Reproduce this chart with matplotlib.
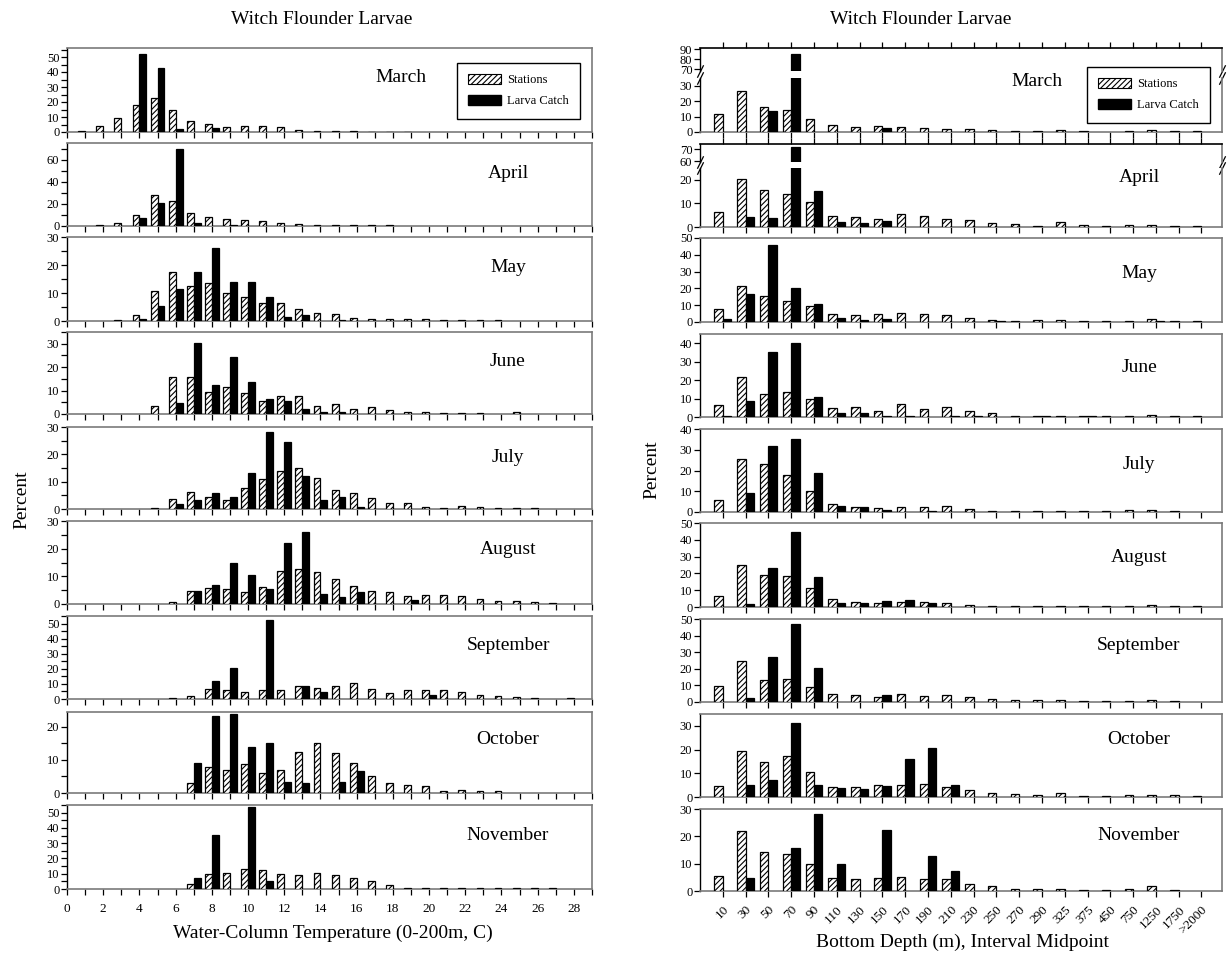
import numpy as np
import matplotlib
matplotlib.use('Agg')
import matplotlib.pyplot as plt
from matplotlib.patches import Patch
from matplotlib.ticker import MultipleLocator

plt.rcParams['font.family'] = ['Liberation Serif', 'DejaVu Serif']
plt.rcParams['hatch.linewidth'] = 0.8

W, H = 1228, 956

months = ['March', 'April', 'May', 'June', 'July', 'August',
          'September', 'October', 'November']

# ---- left column: water-column temperature bins 1..28 C (percent) ----
temp_bins = list(range(1, 29))

temp_st_mar = [0.8, 4, 9.5, 18, 23, 15, 7.5, 5.5, 3.5, 4, 4, 3.5, 1.2, 0.5, 0.5, 0.5, 0.3, 0.3, 0.3,
               0, 0, 0, 0, 0, 0, 0, 0, 0]
temp_lv_mar = [0, 0, 0, 52, 43, 2, 0, 2.5] + [0] * 20
temp_st_apr = [0, 0.5, 2.5, 10, 28, 22.5, 12, 8, 6, 5, 4.5, 3, 1.5, 1, 0.8, 0.8, 0.8, 0.8] + [0] * 10
temp_lv_apr = [0, 0, 0, 7, 21, 70, 3, 0, 1] + [0] * 19
temp_st_may = [0, 0, 0.3, 2, 10.8, 17.5, 12.5, 13.7, 10, 8.4, 6.6, 6.6, 4.4, 2.7, 2.6, 1.1, 0.8, 0.6,
               0.6, 0.6, 0.5, 0.4, 0.3, 0.3, 0, 0, 0, 0]
temp_lv_may = [0, 0, 0, 0.7, 5.3, 11.5, 17.5, 26, 13.8, 13.9, 8.7, 1.5, 2.2, 0, 0.5] + [0] * 13
temp_st_jun = [0, 0, 0, 0, 3.5, 15.8, 16, 9.3, 11.5, 8.8, 5.5, 7.7, 7.7, 3.5, 4.3, 2.3, 2.8, 1.7,
               0.9, 0.8, 0.5, 0.5, 0.5, 0, 0.7, 0, 0, 0]
temp_lv_jun = [0, 0, 0, 0, 0, 4.8, 30.5, 12.4, 24.5, 13.5, 6.4, 5.7, 2.3, 0.8, 1] + [0] * 13
temp_st_jul = [0, 0, 0, 0, 0.5, 3.6, 6.2, 4.5, 3.3, 7.8, 11, 14, 15, 11.4, 7, 5.8, 4, 2.2, 2.3,
               0.8, 0.5, 1.2, 0.7, 0.5, 0.5, 0.4, 0, 0]
temp_lv_jul = [0, 0, 0, 0, 0, 2, 3.2, 5.8, 4.3, 13, 28, 24.5, 12, 3.4, 4.5, 0.8] + [0] * 12
temp_st_aug = [0, 0, 0, 0, 0, 0.8, 4.7, 5.8, 5.6, 4.4, 6.2, 12, 12.7, 11.5, 9, 6.6, 4.7, 4.4, 2.8,
               3.3, 3.3, 3, 1.7, 1.2, 1.2, 0.8, 0.5, 0]
temp_lv_aug = [0, 0, 0, 0, 0, 0, 4.7, 6.7, 15, 10.4, 5.5, 22.2, 26.2, 3.7, 2.4, 4.2, 0, 0, 1.5] + [0] * 9
temp_st_sep = [0, 0, 0, 0, 0, 0.7, 2, 6.5, 6, 4.7, 5.7, 5.7, 8.5, 7.5, 8.7, 10.5, 6.5, 4, 6, 5.8,
               6, 4.5, 2.5, 2, 1.5, 0.5, 0, 0.5]
temp_lv_sep = [0, 0, 0, 0, 0, 0, 0, 12, 20.5, 0, 52.5, 0, 8.8, 4.8, 0, 0, 0, 0, 0, 2.4] + [0] * 8
temp_st_oct = [0, 0, 0, 0, 0, 0, 3, 8, 7, 8.9, 6, 6.9, 12.3, 15, 12, 9.2, 5.2, 3, 2.3, 2, 0.7, 0.8,
               0.7, 0.7, 0, 0, 0, 0]
temp_lv_oct = [0, 0, 0, 0, 0, 0, 9, 23.3, 24, 13.9, 15.2, 3.2, 3, 0, 3.3, 6.7] + [0] * 12
temp_st_nov = [0, 0, 0, 0, 0, 0, 3, 10, 10.5, 13, 12.5, 10, 9.2, 10.2, 9.2, 7, 5.2, 2.5, 0.8, 0.5,
               0.5, 0.5, 0.5, 0.5, 0.5, 0.5, 0.5, 0]
temp_lv_nov = [0, 0, 0, 0, 0, 0, 7.5, 35.5, 0, 53.5, 5] + [0] * 17

temp_ylim = [56, 75, 30, 35, 30, 30, 55, 24.5, 55]
temp_major = [10, 20, 10, 10, 10, 10, 10, 10, 10]

# ---- right column: bottom depth classes (percent) ----
depth_labels = ['10', '30', '50', '70', '90', '110', '130', '150', '170', '190', '210', '230',
                '250', '270', '290', '325', '375', '450', '750', '1250', '1750', '>2000']

depth_st_mar = [12, 26.5, 16.2, 14.3, 8.5, 4.7, 3, 4, 3, 2.7, 2, 1.7, 1.5, 0.8, 0.8, 1.2, 0.8, 0, 0.8, 1.2, 0.6, 0.5]
depth_lv_mar = [0, 0, 13.5, 85, 0, 0, 0, 2.8] + [0] * 14
depth_st_apr = [6.3, 20.5, 15.5, 14, 10.8, 4.8, 4.2, 3.3, 5.5, 4.5, 3.4, 2.8, 1.7, 1.1, 0.5, 2, 0.9, 0.5, 0.8, 0.8, 0.5, 0.5]
depth_lv_apr = [0, 4.3, 3.8, 72, 15.3, 2, 1.5, 2.5] + [0] * 14
depth_st_may = [7.7, 21.5, 15.5, 12.5, 9.5, 5, 4.3, 5, 5.1, 4.8, 4.3, 2.5, 1.3, 0.6, 0.9, 0.9, 0.8, 0.5, 0.8, 1.5, 0.6, 0.5]
depth_lv_may = [1.6, 16.5, 46, 20.5, 10.5, 2.3, 1.3, 1.8, 0, 0, 0, 0, 0.7, 0, 0, 0, 0, 0, 0, 0.8, 0, 0]
depth_st_jun = [6.5, 21.8, 12.3, 13.3, 10, 4.8, 5.2, 3.2, 7, 4.3, 5.3, 3.2, 2, 0.5, 0.5, 0.4, 0.4, 0.5, 0.5, 1.3, 0.4, 0.4]
depth_lv_jun = [0.8, 8.5, 35.5, 40, 10.6, 2, 2.4, 0.6, 0.5, 0, 0.6, 0.6, 0, 0, 0.5, 0, 0.5, 0, 0, 0, 0, 0]
depth_st_jul = [5.8, 25.5, 23, 17.7, 10.3, 3.8, 2.5, 2, 2.3, 2.3, 2.7, 1.3, 0.5, 0.6, 0.5, 0.5, 0.6, 0.6, 0.9, 0.9, 0.4, 0]
depth_lv_jul = [0, 9, 32, 35, 18.8, 2.8, 2.3, 1, 0, 0.6] + [0] * 12
depth_st_aug = [6.4, 25, 19, 18.5, 11.3, 4.8, 3, 2.3, 3, 3, 2.5, 1.2, 0.5, 0.5, 0.5, 0.7, 0.5, 0.5, 0.5, 1, 0.5, 0.4]
depth_lv_aug = [0, 1.8, 23.5, 44.5, 18, 2.3, 2.5, 3.8, 3.9, 2.3] + [0] * 12
depth_st_sep = [9.5, 25, 13.3, 14, 9, 4.7, 4.3, 3, 4.8, 3.6, 4, 3, 1.8, 1.3, 1.2, 1.2, 0.5, 0.6, 0.6, 1, 0.5, 0]
depth_lv_sep = [0, 2.5, 27, 47, 20.5, 0, 0, 4.5] + [0] * 14
depth_st_oct = [4.5, 19.5, 14.6, 17.2, 10.4, 4.4, 4.2, 5, 5, 5.3, 4.2, 2.8, 1.8, 1.1, 0.9, 1.5, 0.4, 0.4, 0.7, 0.8, 0.7, 0.4]
depth_lv_oct = [0, 5.2, 7.2, 31, 5, 4, 3.4, 4.6, 16.2, 20.8, 5.2] + [0] * 11
depth_st_nov = [5.5, 22, 14.3, 13.5, 9.7, 4.8, 4.3, 4.8, 5.2, 4.5, 4.5, 2.7, 2, 0.6, 0.6, 0.9, 0.5, 0.5, 0.9, 1.7, 0.2, 0]
depth_lv_nov = [0, 4.8, 0, 15.8, 28, 9.8, 0, 22.5, 0, 12.8, 7.4] + [0] * 11

depth_ylim = [None, None, 50, 45, 40, 50, 50, 35, 30]
# broken axes for March / April: (lower range, upper range, upper ticks)
depth_break = {0: ((0, 35.2), (68, 91.4), [70, 80, 90]),
               1: ((0, 25), (59.2, 74.5), [60, 70])}

temp_st = [temp_st_mar, temp_st_apr, temp_st_may, temp_st_jun, temp_st_jul,
           temp_st_aug, temp_st_sep, temp_st_oct, temp_st_nov]
temp_lv = [temp_lv_mar, temp_lv_apr, temp_lv_may, temp_lv_jun, temp_lv_jul,
           temp_lv_aug, temp_lv_sep, temp_lv_oct, temp_lv_nov]
depth_st = [depth_st_mar, depth_st_apr, depth_st_may, depth_st_jun, depth_st_jul,
            depth_st_aug, depth_st_sep, depth_st_oct, depth_st_nov]
depth_lv = [depth_lv_mar, depth_lv_apr, depth_lv_may, depth_lv_jun, depth_lv_jul,
            depth_lv_aug, depth_lv_sep, depth_lv_oct, depth_lv_nov]

# layout (pixels)
left_x = (67, 592)
right_x = (700, 1222)
left_tops = [48, 143, 237, 332, 427, 521, 616, 712, 805]
left_bots = [132, 226, 321, 414, 509, 604, 699, 793, 889]
right_tops = [48, 144, 238, 334, 429, 523, 619, 714, 809]
right_bots = [132, 227, 322, 417, 512, 607, 702, 797, 891]
right_split = {0: (71, 78), 1: (162, 168)}

left_month_xy = [(401, 78), (508, 173), (508, 268), (508, 362), (508, 458),
                 (508, 550), (508, 646), (508, 740), (508, 835)]
right_month_xy = [(1037, 82), (1139, 177), (1139, 273), (1139, 368), (1139, 465),
                  (1139, 558), (1139, 645), (1139, 740), (1139, 835)]

HATCH = '//////'
GRAY = '#7a7a7a'


def rect(x0, x1, top, bot):
    return [x0 / W, 1 - bot / H, (x1 - x0) / W, (bot - top) / H]


def draw_bars(ax, x, st, lv, width):
    x = np.asarray(x, dtype=float)
    st = np.asarray(st, dtype=float)
    lv = np.asarray(lv, dtype=float)
    m = st > 0
    ax.bar(x[m], st[m], width=-width, align='edge', facecolor='white',
           edgecolor='black', hatch=HATCH, linewidth=0.9, zorder=3)
    m = lv > 0
    ax.bar(x[m], lv[m], width=width, align='edge', facecolor='black',
           edgecolor='black', linewidth=0.9, zorder=3)


def style(ax):
    for side in ['top', 'right', 'bottom']:
        ax.spines[side].set_color(GRAY)
        ax.spines[side].set_linewidth(1.2)
    ax.spines['left'].set_color('black')
    ax.spines['left'].set_linewidth(1.0)
    ax.tick_params(which='both', direction='out', length=4, width=0.9,
                   labelsize=9, pad=1.5, top=False, right=False)


fig = plt.figure(figsize=(W / 100, H / 100), dpi=100)

# ---------- left column ----------
for i, month in enumerate(months):
    ax = fig.add_axes(rect(left_x[0], left_x[1], left_tops[i], left_bots[i]))
    draw_bars(ax, temp_bins, temp_st[i], temp_lv[i], 0.38)
    ax.set_xlim(0, 29)
    ax.set_ylim(0, temp_ylim[i])
    ax.xaxis.set_major_locator(MultipleLocator(2))
    ax.xaxis.set_minor_locator(MultipleLocator(1))
    ax.yaxis.set_major_locator(MultipleLocator(temp_major[i]))
    ax.yaxis.set_minor_locator(MultipleLocator(temp_major[i] / 2))
    style(ax)
    if i < len(months) - 1:
        ax.tick_params(axis='x', labelbottom=False)
    else:
        ax.tick_params(axis='x', pad=6, labelsize=9.5)
    fig.text(left_month_xy[i][0] / W, 1 - left_month_xy[i][1] / H, month,
             ha='center', va='center', fontsize=14)

# ---------- right column ----------
xd = np.arange(len(depth_labels))
for i, month in enumerate(months):
    if i in depth_break:
        lo, hi, hi_ticks = depth_break[i]
        split_top, split_bot = right_split[i]
        ax_up = fig.add_axes(rect(right_x[0], right_x[1], right_tops[i], split_top))
        ax = fig.add_axes(rect(right_x[0], right_x[1], split_bot, right_bots[i]))
        for a in (ax_up, ax):
            draw_bars(a, xd, depth_st[i], depth_lv[i], 0.37)
            a.set_xlim(-1, 21.9)
            a.set_xticks(xd)
            style(a)
        ax_up.set_ylim(*hi)
        ax_up.set_yticks(hi_ticks)
        ax_up.spines['bottom'].set_visible(False)
        ax_up.tick_params(axis='x', bottom=False, top=True, labelbottom=False)
        ax_up.spines['top'].set_color('black')
        ax.set_ylim(*lo)
        ax.set_yticks(np.arange(0, lo[1], 10))
        ax.spines['top'].set_visible(False)
        ax.tick_params(axis='x', labelbottom=False)
        mk = [(-0.5, -1), (0.5, 1)]
        ax_up.plot([0, 1], [0, 0], transform=ax_up.transAxes, marker=mk,
                   markersize=9, linestyle='none', color='k', mec='k', mew=0.9, clip_on=False)
        ax.plot([0, 1], [1, 1], transform=ax.transAxes, marker=mk,
                markersize=9, linestyle='none', color='k', mec='k', mew=0.9, clip_on=False)
    else:
        ax = fig.add_axes(rect(right_x[0], right_x[1], right_tops[i], right_bots[i]))
        draw_bars(ax, xd, depth_st[i], depth_lv[i], 0.37)
        ax.set_xlim(-1, 21.9)
        ax.set_ylim(0, depth_ylim[i])
        ax.set_xticks(xd)
        ax.yaxis.set_major_locator(MultipleLocator(10))
        style(ax)
        if i < len(months) - 1:
            ax.tick_params(axis='x', labelbottom=False)
        else:
            ax.set_xticklabels(depth_labels, rotation=45, ha='right',
                               rotation_mode='anchor', fontsize=9.5)
            ax.tick_params(axis='x', pad=5)
    fig.text(right_month_xy[i][0] / W, 1 - right_month_xy[i][1] / H, month,
             ha='center', va='center', fontsize=14)

# ---------- titles, labels, legends ----------
fig.text(322 / W, 1 - 19 / H, 'Witch Flounder Larvae', ha='center', va='center', fontsize=14)
fig.text(921 / W, 1 - 19 / H, 'Witch Flounder Larvae', ha='center', va='center', fontsize=14)
fig.text(333 / W, 1 - 933 / H, 'Water-Column Temperature (0-200m, C)',
         ha='center', va='center', fontsize=14)
fig.text(963 / W, 1 - 942 / H, 'Bottom Depth (m), Interval Midpoint',
         ha='center', va='center', fontsize=14)
fig.text(22 / W, 1 - 500 / H, 'Percent', rotation=90, ha='center', va='center', fontsize=14)
fig.text(652 / W, 1 - 470 / H, 'Percent', rotation=90, ha='center', va='center', fontsize=14)

handles = [Patch(facecolor='white', edgecolor='black', hatch=HATCH, linewidth=0.8, label='Stations'),
           Patch(facecolor='black', edgecolor='black', label='Larva Catch')]
for x0, y0 in [(457, 63), (1087, 67)]:
    leg = fig.legend(handles=handles, loc='upper left', bbox_to_anchor=(x0 / W, 1 - y0 / H),
                     borderaxespad=0, fontsize=9, frameon=True, fancybox=False,
                     edgecolor='black', framealpha=1, handlelength=2.6, handleheight=0.8,
                     handletextpad=0.5, borderpad=0.9, labelspacing=0.7)
    leg.get_frame().set_linewidth(1.0)

fig.savefig('out.png', dpi=100)
